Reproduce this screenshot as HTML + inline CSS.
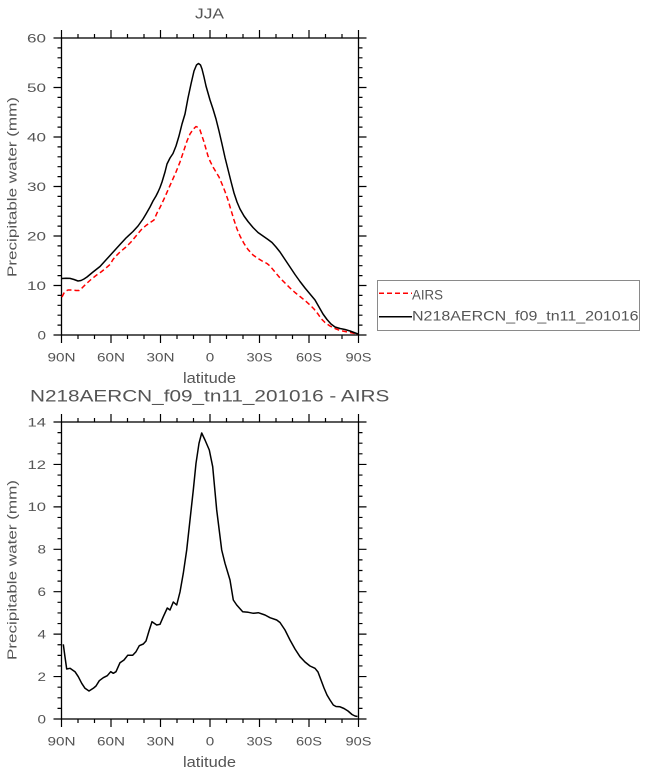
<!DOCTYPE html>
<html>
<head>
<meta charset="utf-8">
<style>
html,body{margin:0;padding:0;background:#fff;}
svg{display:block;}
text{font-family:"Liberation Sans",Arial,sans-serif;fill:#555;}
</style>
</head>
<body>
<svg width="648" height="772" viewBox="0 0 648 772" xmlns="http://www.w3.org/2000/svg">
<defs>
<path id="xt" d="M61.5 0v8M78 0v4M94.5 0v4M111 0v8M127.5 0v4M144 0v4M160.5 0v8M177 0v4M193.5 0v4M210 0v8M226.5 0v4M243 0v4M259.5 0v8M276 0v4M292.5 0v4M309 0v8M325.5 0v4M342 0v4M358.5 0v8" stroke="#000" stroke-width="1.2" fill="none"/>
<path id="yt1" d="M0 335h-8M0 325.1h-4M0 315.2h-4M0 305.3h-4M0 295.4h-4M0 285.5h-8M0 275.6h-4M0 265.7h-4M0 255.8h-4M0 245.9h-4M0 236h-8M0 226.1h-4M0 216.2h-4M0 206.3h-4M0 196.4h-4M0 186.5h-8M0 176.6h-4M0 166.7h-4M0 156.8h-4M0 146.9h-4M0 137h-8M0 127.1h-4M0 117.2h-4M0 107.3h-4M0 97.4h-4M0 87.5h-8M0 77.6h-4M0 67.7h-4M0 57.8h-4M0 47.9h-4M0 38h-8" stroke="#000" stroke-width="1.2" fill="none"/>
<path id="yt2" d="M0 719h-8M0 708.39h-4M0 697.79h-4M0 687.18h-4M0 676.57h-8M0 665.96h-4M0 655.36h-4M0 644.75h-4M0 634.14h-8M0 623.54h-4M0 612.93h-4M0 602.32h-4M0 591.71h-8M0 581.11h-4M0 570.5h-4M0 559.89h-4M0 549.29h-8M0 538.68h-4M0 528.07h-4M0 517.46h-4M0 506.86h-8M0 496.25h-4M0 485.64h-4M0 475.04h-4M0 464.43h-8M0 453.82h-4M0 443.21h-4M0 432.61h-4M0 422h-8" stroke="#000" stroke-width="1.2" fill="none"/>
</defs>

<!-- ===== TOP PLOT ===== -->
<text x="195" y="18.3" font-size="15" textLength="29" lengthAdjust="spacingAndGlyphs">JJA</text>
<rect x="61.5" y="38" width="297" height="297" fill="none" stroke="#000" stroke-width="1.3"/>
<use href="#xt" transform="translate(0,335)"/>
<use href="#xt" transform="translate(0,38) scale(1,-1)"/>
<use href="#yt1" transform="translate(61.5,0)"/>
<use href="#yt1" transform="translate(358.5,0) scale(-1,1)"/>

<g font-size="12">
<text x="27" y="42.3" textLength="19" lengthAdjust="spacingAndGlyphs">60</text>
<text x="27" y="91.8" textLength="19" lengthAdjust="spacingAndGlyphs">50</text>
<text x="27" y="141.3" textLength="19" lengthAdjust="spacingAndGlyphs">40</text>
<text x="27" y="190.8" textLength="19" lengthAdjust="spacingAndGlyphs">30</text>
<text x="27" y="240.3" textLength="19" lengthAdjust="spacingAndGlyphs">20</text>
<text x="27" y="289.8" textLength="19" lengthAdjust="spacingAndGlyphs">10</text>
<text x="37.5" y="339.3" textLength="8.5" lengthAdjust="spacingAndGlyphs">0</text>

<text x="47.5" y="361.7" textLength="28" lengthAdjust="spacingAndGlyphs">90N</text>
<text x="97" y="361.7" textLength="28" lengthAdjust="spacingAndGlyphs">60N</text>
<text x="146.5" y="361.7" textLength="28" lengthAdjust="spacingAndGlyphs">30N</text>
<text x="205.75" y="361.7" textLength="8.5" lengthAdjust="spacingAndGlyphs">0</text>
<text x="246.5" y="361.7" textLength="26" lengthAdjust="spacingAndGlyphs">30S</text>
<text x="296" y="361.7" textLength="26" lengthAdjust="spacingAndGlyphs">60S</text>
<text x="345.5" y="361.7" textLength="26" lengthAdjust="spacingAndGlyphs">90S</text>
</g>
<text x="183" y="383" font-size="15" textLength="53" lengthAdjust="spacingAndGlyphs">latitude</text>
<text transform="translate(16.5,187) rotate(-90)" x="-90" y="0" font-size="13" textLength="180" lengthAdjust="spacingAndGlyphs">Precipitable water (mm)</text>

<polyline fill="none" stroke="#ff0000" stroke-width="1.5" stroke-dasharray="5,3" stroke-linejoin="round" points="62,297 64,293 66,291 68,290 72,290 76,290.5 79,290.5 82,288 86,284 91,279.5 96,275.5 101,272 106,268 110,264.5 113,259.5 116,256 120,252 126,247 131,242 136,236 141,230 146,225.5 151,222 154,220 157,213 160,207.5 164,199 168,190 172,181 176,172 180,162 184,150 187,141 190,134 193,129.5 196,126.5 198,127.5 200,130 202,136 204,142 206,149 208,156 210,161 213,167 216,172 219,177 222,184 225,191.5 228,200 231,210 234,220 237,229 240,236 244,243.5 248,249.5 253,255 258,258.5 263,261.5 267,263.5 270,266 275,272 280,278 285,283 290,288 295,292.5 300,296.5 305,300.5 310,305 314,309 318,314 321,318.5 325,322.5 330,326 335,328.5 340,330.5 345,331.5 350,332.5 355,333.5 358,334.5"/>
<polyline fill="none" stroke="#000" stroke-width="1.5" stroke-linejoin="round" points="62,278.5 66,278.3 70,278.4 74,279.5 78,281 81,280.5 84,279 87,277 93,272 100,266.5 105,261 110,255.5 115,250 120,244.5 126,238 133,231.5 138,226 143,219 146,214 150,207 153,201 156,196 158,192 160,187.5 162,182 165,172 167,164 170,158 173,153.5 176,146 179,136 182,124 185,114 188,98 191,84 194,71 196.5,65 198.5,63.5 200.5,65 202,69 204,77 206,86 208,93 210,100 213,109 216,119 219,131 222,144 225,157.5 228,169.5 231,181.5 234,193 237,202 240,209 244,216 248,221.5 253,227.5 258,232.5 263,236 268,239.5 272,242.5 276,247 280,252 285,259.5 290,267 295,274.5 300,281.5 305,288 310,294 315,300 319,307 323,314 327,319.5 331,324 335,327 340,328.5 345,329.5 350,331 354,332.5 358,334"/>

<!-- Legend -->
<rect x="377.5" y="280.5" width="262" height="50" fill="#fff" stroke="#8a8a8a" stroke-width="1"/>
<line x1="379" y1="293.3" x2="412" y2="293.3" stroke="#ff0000" stroke-width="1.5" stroke-dasharray="5,3"/>
<line x1="379" y1="316.7" x2="412" y2="316.7" stroke="#000" stroke-width="1.5"/>
<text x="412" y="299.3" font-size="14" textLength="31" lengthAdjust="spacingAndGlyphs">AIRS</text>
<text x="412" y="320.7" font-size="14" textLength="226.5" lengthAdjust="spacingAndGlyphs">N218AERCN_f09_tn11_201016</text>

<!-- ===== BOTTOM PLOT ===== -->
<text x="30" y="401.7" font-size="16.5" textLength="359.3" lengthAdjust="spacingAndGlyphs">N218AERCN_f09_tn11_201016 - AIRS</text>
<rect x="61.5" y="422" width="297" height="297" fill="none" stroke="#000" stroke-width="1.3"/>
<use href="#xt" transform="translate(0,719)"/>
<use href="#xt" transform="translate(0,422) scale(1,-1)"/>
<use href="#yt2" transform="translate(61.5,0)"/>
<use href="#yt2" transform="translate(358.5,0) scale(-1,1)"/>

<g font-size="12">
<text x="27.5" y="426.3" textLength="18.5" lengthAdjust="spacingAndGlyphs">14</text>
<text x="27.5" y="468.8" textLength="18.5" lengthAdjust="spacingAndGlyphs">12</text>
<text x="27.5" y="511.2" textLength="18.5" lengthAdjust="spacingAndGlyphs">10</text>
<text x="37.5" y="553.6" textLength="8.5" lengthAdjust="spacingAndGlyphs">8</text>
<text x="37.5" y="596" textLength="8.5" lengthAdjust="spacingAndGlyphs">6</text>
<text x="37.5" y="638.5" textLength="8.5" lengthAdjust="spacingAndGlyphs">4</text>
<text x="37.5" y="680.9" textLength="8.5" lengthAdjust="spacingAndGlyphs">2</text>
<text x="37.5" y="723.3" textLength="8.5" lengthAdjust="spacingAndGlyphs">0</text>

<text x="47.5" y="745.6" textLength="28" lengthAdjust="spacingAndGlyphs">90N</text>
<text x="97" y="745.6" textLength="28" lengthAdjust="spacingAndGlyphs">60N</text>
<text x="146.5" y="745.6" textLength="28" lengthAdjust="spacingAndGlyphs">30N</text>
<text x="205.75" y="745.6" textLength="8.5" lengthAdjust="spacingAndGlyphs">0</text>
<text x="246.5" y="745.6" textLength="26" lengthAdjust="spacingAndGlyphs">30S</text>
<text x="296" y="745.6" textLength="26" lengthAdjust="spacingAndGlyphs">60S</text>
<text x="345.5" y="745.6" textLength="26" lengthAdjust="spacingAndGlyphs">90S</text>
</g>
<text x="183" y="767" font-size="15" textLength="53" lengthAdjust="spacingAndGlyphs">latitude</text>
<text transform="translate(16.5,570) rotate(-90)" x="-90" y="0" font-size="13" textLength="180" lengthAdjust="spacingAndGlyphs">Precipitable water (mm)</text>

<polyline fill="none" stroke="#000" stroke-width="1.5" stroke-linejoin="round" points="63.3,644.3 65,657 66.7,669 70,668.3 75,671.7 78.3,676.7 81.7,683.3 85,688.3 89,691 93.3,688.3 96,686 99.3,680.7 103.3,677.7 107.3,675.7 110.7,671.7 113.3,673.3 116,671.7 120,662.7 124,660 127.7,655.3 132.7,655.3 136,651.7 139.3,645.7 143.3,644 146,641 149.3,630 152,621.7 156.7,625 160,624.3 163.3,616.7 167.3,608 170,610 173.3,602 176.7,605 180,592 183.3,573.3 186.7,550 190,520 193.3,490 196,463.3 199,443.3 201.7,433 205,440 209.3,450 212.7,466.7 216.7,510 221.7,550 225,563.3 230,580 233.3,600 236.7,605 242.7,611.7 248.3,612.3 253.3,613.3 258.3,612.7 265,615 270,617.7 276.7,620 280,622.5 285,630 290,640 295,649 300,656.7 305,662 310,666 315,668.3 318,672 321,680 324,688 327,695 330,700 333.3,705 336,706.5 340,706.8 344,708.5 348,711 352,714.5 355,716 357.5,716.5"/>
</svg>
</body>
</html>
